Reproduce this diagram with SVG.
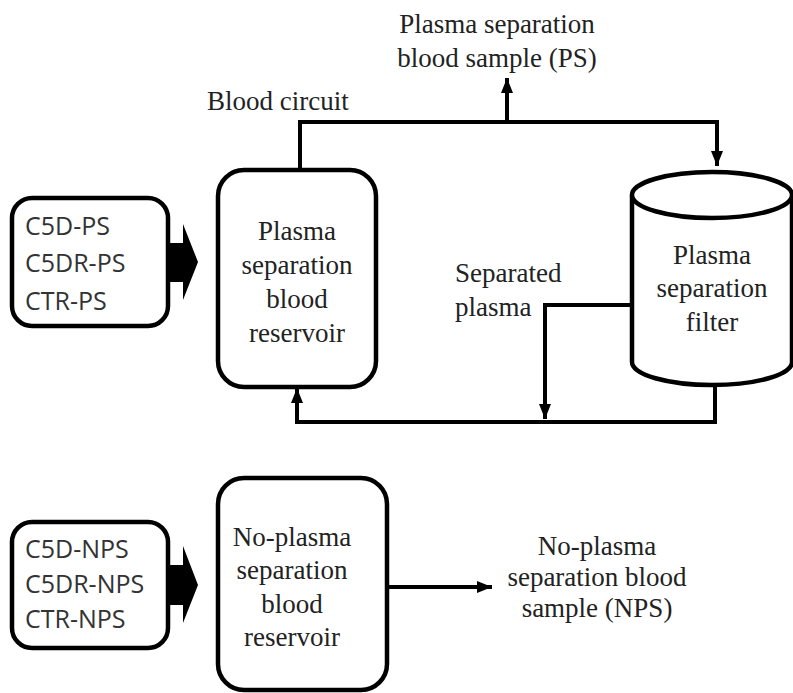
<svg xmlns="http://www.w3.org/2000/svg" width="793" height="693" viewBox="0 0 793 693">
<style>
.box{fill:#fff;stroke:#000;stroke-width:4.5}
.ln{fill:none;stroke:#000;stroke-width:4}
.sans{font-family:"Open Sans","Liberation Sans",sans-serif;font-size:25px;fill:#333}
.serif{font-family:"Liberation Serif","Times New Roman",serif;font-size:27px;fill:#222}
.c{text-anchor:middle}
</style>
<defs>
<marker id="ah" viewBox="0 0 15 12" refX="15" refY="6" markerWidth="15" markerHeight="12" orient="auto" markerUnits="userSpaceOnUse">
<path d="M0,0 L15,6 L0,12 z" fill="#000"/>
</marker>
</defs>
<rect width="793" height="693" fill="#fff"/>

<g id="connectors">
<path class="ln" d="M300,170 V122 H717 V166" marker-end="url(#ah)"/>
<path class="ln" d="M507,122 V78" marker-end="url(#ah)"/>
<path class="ln" d="M632,305 H545 V419" marker-end="url(#ah)"/>
<path class="ln" d="M715,384 V422 H297 V388" marker-end="url(#ah)"/>
<path class="ln" d="M387,587 H492" marker-end="url(#ah)"/>
<path d="M166,243 H183 V224 L198,262 L183,300 V282 H166 z" fill="#000"/>
<path d="M166,565 H183 V546 L198,585 L183,623 V605 H166 z" fill="#000"/>
</g>

<g id="groups-ps">
<rect class="box" x="12" y="198" width="156" height="128" rx="20"/>
<text class="sans" x="25" y="235">C5D-PS</text>
<text class="sans" x="25" y="272">C5DR-PS</text>
<text class="sans" x="25" y="310">CTR-PS</text>
</g>

<g id="reservoir-ps">
<rect class="box" x="218" y="170" width="158" height="217" rx="26"/>
<text class="serif c" x="297" y="240">Plasma</text>
<text class="serif c" x="297" y="274">separation</text>
<text class="serif c" x="297" y="308">blood</text>
<text class="serif c" x="297" y="342">reservoir</text>
</g>

<g id="filter">
<path class="box" d="M632,195 V362 A80,23 0 0 0 792,362 V195"/>
<ellipse class="box" cx="712" cy="195" rx="80" ry="23"/>
<text class="serif c" x="712" y="264">Plasma</text>
<text class="serif c" x="712" y="297">separation</text>
<text class="serif c" x="712" y="331">filter</text>
</g>

<g id="labels-top">
<text class="serif" x="207" y="110">Blood circuit</text>
<text class="serif c" x="497" y="33">Plasma separation</text>
<text class="serif c" x="497" y="67">blood sample (PS)</text>
<text class="serif" x="455" y="282">Separated</text>
<text class="serif" x="455" y="316">plasma</text>
</g>

<g id="groups-nps">
<rect class="box" x="12" y="522" width="156" height="126" rx="20"/>
<text class="sans" x="25" y="558">C5D-NPS</text>
<text class="sans" x="25" y="593">C5DR-NPS</text>
<text class="sans" x="25" y="628">CTR-NPS</text>
</g>

<g id="reservoir-nps">
<rect class="box" x="218" y="478" width="169" height="212" rx="26"/>
<text class="serif c" x="292" y="546">No-plasma</text>
<text class="serif c" x="292" y="579">separation</text>
<text class="serif c" x="292" y="613">blood</text>
<text class="serif c" x="292" y="646">reservoir</text>
</g>

<g id="sample-nps">
<text class="serif c" x="597" y="555">No-plasma</text>
<text class="serif c" x="597" y="586">separation blood</text>
<text class="serif c" x="597" y="617">sample (NPS)</text>
</g>
</svg>
